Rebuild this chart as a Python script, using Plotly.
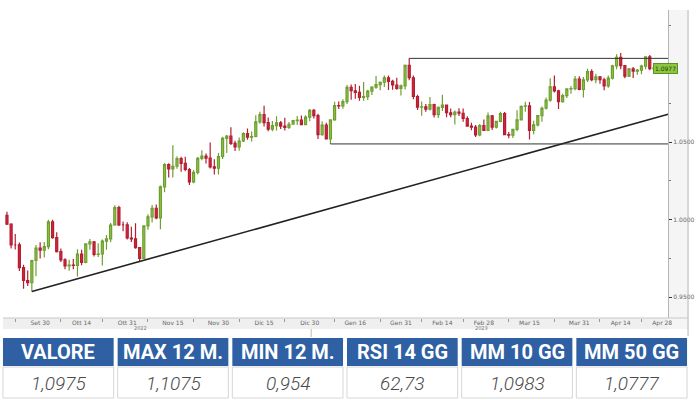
import plotly.graph_objects as go
import pandas as pd

# ---------------- data ----------------
dates = pd.bdate_range("2022-09-20", "2023-04-26").strftime("%Y-%m-%d").tolist()

open_ = [
    # Sep
    1.0027, 0.9970, 0.9837, 0.9837, 0.9690, 0.9607, 0.9593, 0.9736, 0.9816,
    # Oct
    0.9802, 0.9825, 0.9985, 0.9884, 0.9793, 0.9740, 0.9701, 0.9706, 0.9704, 0.9778,
    0.9724, 0.9843, 0.9856, 0.9775, 0.9778, 0.9861, 0.9876, 0.9965, 1.0078, 0.9966, 0.9966,
    # Nov
    0.9881, 0.9876, 0.9819, 0.9750, 0.9959, 1.0018, 1.0073, 1.0011, 1.0211, 1.0354, 1.0327,
    1.0344, 1.0393, 1.0363, 1.0323, 1.0243, 1.0304, 1.0395, 1.0409, 1.0396, 1.0340, 1.0331,
    # Dec
    1.0407, 1.0524, 1.0538, 1.0492, 1.0469, 1.0507, 1.0555, 1.0531, 1.0536, 1.0630, 1.0678,
    1.0626, 1.0584, 1.0606, 1.0624, 1.0603, 1.0595, 1.0615, 1.0638, 1.0641, 1.0612, 1.0661,
    # Jan
    1.0705, 1.0670, 1.0548, 1.0609, 1.0521, 1.0643, 1.0735, 1.0733, 1.0761, 1.0853, 1.0831,
    1.0821, 1.0788, 1.0793, 1.0829, 1.0855, 1.0870, 1.0886, 1.0915, 1.0891, 1.0868, 1.0846,
    # Feb
    1.0863, 1.0995, 1.0915, 1.0794, 1.0726, 1.0727, 1.0713, 1.0742, 1.0677, 1.0724,
    1.0738, 1.0689, 1.0677, 1.0694, 1.0686, 1.0652, 1.0603, 1.0597, 1.0547, 1.0607,
    # Mar
    1.0576, 1.0669, 1.0597, 1.0634, 1.0683, 1.0548, 1.0545, 1.0582, 1.0643, 1.0731, 1.0733, 1.0575,
    1.0611, 1.0670, 1.0718, 1.0771, 1.0857, 1.0830, 1.0760, 1.0800, 1.0843, 1.0845, 1.0907,
    # Apr
    1.0839, 1.0901, 1.0955, 1.0903, 1.0921, 1.0902, 1.0862, 1.0913, 1.0992, 1.1046,
    1.0993, 1.0925, 1.0972, 1.0958, 1.0964, 1.0990, 1.1050, 1.0974,
]
high = [
    1.0051, 0.9976, 0.9907, 0.9852, 0.9709, 0.9671, 0.9740, 0.9836, 0.9853,
    0.9855, 0.9999, 0.9999, 0.9918, 0.9813, 0.9750, 0.9740, 0.9745, 0.9808, 0.9805,
    0.9845, 0.9874, 0.9862, 0.9848, 0.9871, 0.9900, 0.9978, 1.0093, 1.0089, 0.9988, 0.9982,
    0.9954, 0.9977, 0.9821, 0.9964, 1.0034, 1.0094, 1.0097, 1.0219, 1.0365, 1.0364, 1.0480,
    1.0409, 1.0405, 1.0405, 1.0332, 1.0320, 1.0404, 1.0448, 1.0427, 1.0497, 1.0389, 1.0429,
    1.0534, 1.0545, 1.0595, 1.0509, 1.0530, 1.0563, 1.0588, 1.0568, 1.0673, 1.0695, 1.0735,
    1.0658, 1.0636, 1.0667, 1.0636, 1.0657, 1.0630, 1.0641, 1.0668, 1.0672, 1.0673, 1.0713,
    1.0713, 1.0683, 1.0634, 1.0624, 1.0646, 1.0760, 1.0761, 1.0777, 1.0868, 1.0871, 1.0874,
    1.0864, 1.0887, 1.0837, 1.0860, 1.0927, 1.0890, 1.0930, 1.0929, 1.0902, 1.0915, 1.0871,
    1.1000, 1.1040, 1.0930, 1.0805, 1.0761, 1.0745, 1.0790, 1.0747, 1.0730, 1.0805,
    1.0743, 1.0716, 1.0703, 1.0718, 1.0717, 1.0667, 1.0625, 1.0610, 1.0616, 1.0645,
    1.0690, 1.0675, 1.0636, 1.0695, 1.0694, 1.0565, 1.0585, 1.0706, 1.0736, 1.0760, 1.0759,
    1.0637, 1.0672, 1.0730, 1.0787, 1.0912, 1.0930, 1.0838, 1.0812, 1.0847, 1.0862, 1.0927, 1.0925,
    1.0920, 1.0973, 1.0969, 1.0940, 1.0926, 1.0915, 1.0930, 1.0998, 1.1066, 1.1075,
    1.0997, 1.0978, 1.0985, 1.0972, 1.0999, 1.1053, 1.1062, 1.0982,
]
low = [
    0.9965, 0.9813, 0.9807, 0.9668, 0.9553, 0.9571, 0.9536, 0.9635, 0.9749,
    0.9755, 0.9809, 0.9876, 0.9788, 0.9727, 0.9679, 0.9670, 0.9680, 0.9632, 0.9706,
    0.9718, 0.9805, 0.9762, 0.9758, 0.9703, 0.9806, 0.9854, 0.9960, 0.9958, 0.9924, 0.9872,
    0.9855, 0.9812, 0.9730, 0.9745, 0.9935, 0.9981, 1.0002, 0.9937, 1.0176, 1.0271, 1.0271,
    1.0328, 1.0309, 1.0312, 1.0223, 1.0235, 1.0290, 1.0382, 1.0361, 1.0330, 1.0291, 1.0290,
    1.0390, 1.0429, 1.0481, 1.0443, 1.0444, 1.0500, 1.0515, 1.0504, 1.0531, 1.0618, 1.0600,
    1.0570, 1.0570, 1.0575, 1.0585, 1.0574, 1.0585, 1.0613, 1.0610, 1.0610, 1.0609, 1.0634,
    1.0652, 1.0519, 1.0540, 1.0520, 1.0488, 1.0638, 1.0714, 1.0715, 1.0745, 1.0773, 1.0780,
    1.0767, 1.0766, 1.0772, 1.0803, 1.0844, 1.0835, 1.0856, 1.0836, 1.0837, 1.0838, 1.0800,
    1.0839, 1.0899, 1.0777, 1.0707, 1.0669, 1.0695, 1.0703, 1.0659, 1.0655, 1.0700,
    1.0660, 1.0660, 1.0613, 1.0668, 1.0631, 1.0600, 1.0577, 1.0533, 1.0538, 1.0574,
    1.0573, 1.0578, 1.0588, 1.0628, 1.0545, 1.0524, 1.0527, 1.0569, 1.0640, 1.0696, 1.0516,
    1.0551, 1.0600, 1.0631, 1.0710, 1.0760, 1.0820, 1.0713, 1.0754, 1.0785, 1.0812, 1.0835, 1.0835,
    1.0788, 1.0888, 1.0893, 1.0880, 1.0877, 1.0834, 1.0850, 1.0904, 1.0970, 1.0970,
    1.0912, 1.0920, 1.0913, 1.0935, 1.0937, 1.0970, 1.0964, 1.0968,
]
close = [
    0.9970, 0.9837, 0.9837, 0.9690, 0.9607, 0.9593, 0.9736, 0.9816, 0.9802,
    0.9825, 0.9985, 0.9884, 0.9793, 0.9740, 0.9701, 0.9706, 0.9704, 0.9778, 0.9724,
    0.9843, 0.9856, 0.9775, 0.9778, 0.9861, 0.9876, 0.9965, 1.0078, 0.9966, 0.9966, 0.9881,
    0.9876, 0.9819, 0.9750, 0.9959, 1.0018, 1.0073, 1.0011, 1.0211, 1.0354, 1.0327, 1.0344,
    1.0393, 1.0363, 1.0323, 1.0243, 1.0304, 1.0395, 1.0409, 1.0396, 1.0340, 1.0331, 1.0407,
    1.0524, 1.0538, 1.0492, 1.0469, 1.0507, 1.0555, 1.0531, 1.0536, 1.0630, 1.0678, 1.0626,
    1.0584, 1.0606, 1.0624, 1.0603, 1.0595, 1.0615, 1.0638, 1.0641, 1.0612, 1.0661, 1.0705,
    1.0670, 1.0548, 1.0609, 1.0521, 1.0643, 1.0735, 1.0733, 1.0761, 1.0853, 1.0831, 1.0821,
    1.0788, 1.0793, 1.0829, 1.0855, 1.0870, 1.0886, 1.0915, 1.0891, 1.0868, 1.0846, 1.0863,
    1.0995, 1.0915, 1.0794, 1.0726, 1.0727, 1.0713, 1.0742, 1.0677, 1.0724, 1.0738,
    1.0689, 1.0677, 1.0694, 1.0686, 1.0652, 1.0603, 1.0597, 1.0547, 1.0607, 1.0576,
    1.0669, 1.0597, 1.0634, 1.0683, 1.0548, 1.0545, 1.0582, 1.0643, 1.0731, 1.0733, 1.0575,
    1.0611, 1.0670, 1.0718, 1.0771, 1.0857, 1.0830, 1.0760, 1.0800, 1.0843, 1.0845, 1.0907, 1.0839,
    1.0901, 1.0955, 1.0903, 1.0921, 1.0902, 1.0862, 1.0913, 1.0992, 1.1046, 1.0993,
    1.0925, 1.0972, 1.0958, 1.0964, 1.0990, 1.1050, 1.0974, 1.0977,
]
assert len(dates) == len(open_) == len(high) == len(low) == len(close)

tick_dates = ["2022-09-30", "2022-10-14", "2022-10-31", "2022-11-15", "2022-11-30",
              "2022-12-15", "2022-12-30", "2023-01-16", "2023-01-31", "2023-02-14",
              "2023-02-28", "2023-03-15", "2023-03-31", "2023-04-14", "2023-04-28"]
tick_labels = ["Set 30", "Ott 14", "Ott 31", "Nov 15", "Nov 30", "Dic 15", "Dic 30",
               "Gen 16", "Gen 31", "Feb 14", "Feb 28", "Mar 15", "Mar 31", "Apr 14", "Apr 28"]
minor_tick_dates = ["2022-09-22", "2022-10-07", "2022-10-21", "2022-11-07", "2022-11-22",
                    "2022-12-07", "2022-12-22", "2023-01-09", "2023-01-24", "2023-02-07",
                    "2023-02-21", "2023-03-08", "2023-03-23", "2023-04-07", "2023-04-21"]
y_tick_values = [0.95, 1.00, 1.05]
y_minor_values = [0.975, 1.025, 1.075, 1.10, 1.125]
years = ["2022", "2023"]

trend_dates = ["2022-09-28", "2023-05-01 10:30"]
trend_values = [0.9536, 1.0680]
resist_dates = ["2023-02-02", "2023-05-01 10:30"]
resist_values = [1.1040, 1.1040]
support_dates = ["2023-01-06", "2023-05-01 10:30"]
support_values = [1.0488, 1.0488]
last_price = 1.0977

table_headers = ["VALORE", "MAX 12 M.", "MIN 12 M.", "RSI 14 GG", "MM 10 GG", "MM 50 GG"]
table_values = ["1,0975", "1,1075", "0,954", "62,73", "1,0983", "1,0777"]

# ---------------- figure ----------------
W, H = 700, 400
def px(xp):
    return xp / W
def py(yp):
    return 1 - yp / H

fig = go.Figure()
fig.add_trace(go.Candlestick(
    x=dates, open=open_, high=high, low=low, close=close,
    increasing=dict(fillcolor="#8cc63f", line=dict(color="#6f9f32", width=1.2)),
    decreasing=dict(fillcolor="#d7263d", line=dict(color="#b21f33", width=1.2)),
    whiskerwidth=0, hoverinfo="skip", showlegend=False,
))
for xs, ys, col, wd in [(trend_dates, trend_values, "#222222", 1.6),
                         (resist_dates, resist_values, "#333333", 1),
                         (support_dates, support_values, "#333333", 1)]:
    fig.add_trace(go.Scatter(x=xs, y=ys, mode="lines", line=dict(color=col, width=wd),
                             hoverinfo="skip", showlegend=False))

x_top, x_bot = 10, 318
x_left, x_right = 3, 672

fig.update_layout(
    width=W, height=H, margin=dict(l=0, r=0, t=0, b=0),
    paper_bgcolor="white", plot_bgcolor="white", showlegend=False,
    font=dict(family="DejaVu Sans", color="#555"),
    xaxis=dict(
        domain=[px(x_left), px(x_right)], type="date",
        range=["2022-09-19 01:00", "2023-05-01 10:30"],
        rangebreaks=[dict(bounds=["sat", "mon"])],
        rangeslider=dict(visible=False),
        tickvals=tick_dates, ticktext=tick_labels, ticks="",
        tickfont=dict(size=6, color="#666"),
        showgrid=False, zeroline=False, showline=False,
        minor=dict(tickvals=minor_tick_dates, ticks="outside", ticklen=3,
                   tickcolor="#999", showgrid=False),
    ),
    yaxis=dict(
        domain=[py(x_bot), py(x_top)], range=[0.9365, 1.1352], side="right",
        tickvals=y_tick_values, tickformat=".4f", ticks="outside", ticklen=3,
        tickcolor="#333", tickfont=dict(size=6, color="#666"),
        showgrid=False, zeroline=False, showline=True, linecolor="#b5b5b5",
        minor=dict(tickvals=y_minor_values, ticks="outside", ticklen=2,
                   tickcolor="#777", showgrid=False),
    ),
)

shapes = []
# axis bands
shapes.append(dict(type="rect", xref="paper", yref="paper", layer="below",
                   x0=px(x_left), x1=px(692), y0=py(329), y1=py(318),
                   fillcolor="#efefef", line=dict(width=0)))
shapes.append(dict(type="rect", xref="paper", yref="paper", layer="below",
                   x0=px(672), x1=px(692), y0=py(329), y1=py(10),
                   fillcolor="#f5f5f5", line=dict(width=0)))
shapes.append(dict(type="line", xref="paper", yref="paper",
                   x0=px(692), x1=px(692), y0=py(336), y1=py(10),
                   line=dict(color="#b5b5b5", width=1)))
shapes.append(dict(type="line", xref="paper", yref="paper",
                   x0=px(x_left), x1=px(692), y0=py(318), y1=py(318),
                   line=dict(color="#c8c8c8", width=1)))
shapes.append(dict(type="line", xref="paper", yref="paper",
                   x0=px(313), x1=px(313), y0=py(337), y1=py(329),
                   line=dict(color="#bbbbbb", width=1)))

# table
n = len(table_headers)
t_left, t_right, gap = 3, 691, 4
cw = (t_right - t_left - gap * (n - 1)) / n
h_top, h_bot, v_bot = 338, 366, 398
annotations = []
for i, (hdr, val) in enumerate(zip(table_headers, table_values)):
    x0 = t_left + i * (cw + gap)
    x1 = x0 + cw
    shapes.append(dict(type="rect", xref="paper", yref="paper",
                       x0=px(x0), x1=px(x1), y0=py(h_bot), y1=py(h_top),
                       fillcolor="#2e60a3", line=dict(width=0)))
    shapes.append(dict(type="rect", xref="paper", yref="paper",
                       x0=px(x0), x1=px(x1), y0=py(v_bot), y1=py(h_bot + 1),
                       fillcolor="white", line=dict(color="#d6d6d6", width=1)))
    annotations.append(dict(xref="paper", yref="paper", x=px((x0 + x1) / 2),
                            y=py((h_top + h_bot) / 2), text=f"<b>{hdr}</b>",
                            showarrow=False, xanchor="center", yanchor="middle",
                            font=dict(family="Roboto", size=20, color="white")))
    annotations.append(dict(xref="paper", yref="paper", x=px((x0 + x1) / 2),
                            y=py((h_bot + v_bot) / 2 + 1), text=val,
                            showarrow=False, xanchor="center", yanchor="middle",
                            font=dict(family="Roboto", size=19, color="#4a4a4a",
                                      style="italic", weight=300)))

# year labels
for yr, xp in zip(years, [133, 493]):
    annotations.append(dict(xref="paper", yref="paper", x=px(xp), y=py(333),
                            text=yr, showarrow=False, font=dict(size=5, color="#777")))

# last price label
annotations.append(dict(xref="paper", yref="y", x=px(682), y=last_price,
                        text=f"{last_price:.4f}", showarrow=False,
                        bgcolor="#8cc63f", bordercolor="#5f8f2a", borderwidth=1,
                        borderpad=1, font=dict(size=6, color="#1f3a0a")))

fig.update_layout(shapes=shapes, annotations=annotations)
fig.write_html("out.html", config={"displayModeBar": False},
               post_script="document.body.style.margin='0px';document.body.style.padding='0px';")
